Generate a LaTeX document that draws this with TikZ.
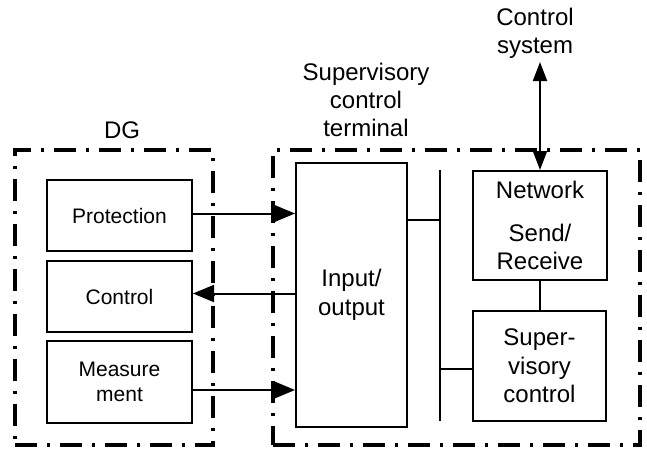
\documentclass[tikz,border=0pt]{standalone}
\usepackage{fontspec}
\setmainfont{Liberation Sans}
\usetikzlibrary{arrows.meta,positioning,calc}

\begin{document}
\begin{tikzpicture}[x=1pt,y=-1pt,
  frame/.style={draw,line width=3.5pt,dash pattern=on 22pt off 10pt on 3pt off 10pt},
  block/.style={draw,line width=2pt,align=center,font=\fontsize{24}{28.5}\selectfont},
  dgblock/.style={block,font=\fontsize{21}{25}\selectfont,minimum width=145},
  title/.style={align=center,font=\fontsize{24}{28}\selectfont},
  link/.style={line width=2pt},
  sig/.style={link,-{Triangle[length=21pt,width=17pt]}}]
  \useasboundingbox (0,0) rectangle (647,452);
  % DG side
  \node[frame,minimum width=198,minimum height=295] (dg) at (114,297.5) {};
  \node[title] (dglbl) at (122,130) {DG};
  \node[dgblock,minimum height=71] (prot) at (119.5,215.5) {Protection};
  \node[dgblock,minimum height=71] (ctrl) at (119.5,296.5) {Control};
  \node[dgblock,minimum height=82] (meas) at (119.5,382) {Measure\\ment};
  % Supervisory control terminal
  \node[frame,minimum width=367,minimum height=295] (sct) at (456.5,297.5) {};
  \node[title] (sctlbl) at (366,100) {Supervisory\\control\\terminal};
  \node[block,minimum width=111,minimum height=264] (io) at (351.5,295) {Input/\\output};
  \node[block,minimum width=134,minimum height=109,anchor=north] (net) at (540,170) {Network\\[14pt]Send/\\Receive};
  \node[block,minimum width=133,minimum height=110] (sup) at (539.5,366) {Super-\\visory\\control};
  % Signals between DG and terminal
  \draw[sig] ([yshift=2pt]prot.east) -- ([yshift=2pt]prot.east -| io.west);
  \draw[sig] ([yshift=3pt]io.west |- ctrl.east) -- ([yshift=3pt]ctrl.east);
  \draw[sig] ([yshift=-8pt]meas.east) -- ([yshift=-8pt]meas.east -| io.west);
  % Internal bus
  \coordinate (bustop) at (440,170);
  \coordinate (busbot) at (440,421);
  \coordinate (iobus) at (440,220);
  \coordinate (supbus) at (440,369);
  \draw[link] (bustop) -- (busbot);
  \draw[link] (iobus -| io.east) -- (iobus);
  \draw[link] (supbus) -- (supbus -| sup.west);
  \draw[link] (net.south) -- (net.south |- sup.north);
  % Control system
  \node[title] (cs) at (535,33) {Control\\system};
  \coordinate (cstop) at (540,62);
  \draw[link,{Triangle[length=19pt,width=14pt]}-{Triangle[length=19pt,width=14pt]}] (cstop) -- (net.north);
\end{tikzpicture}
\end{document}
